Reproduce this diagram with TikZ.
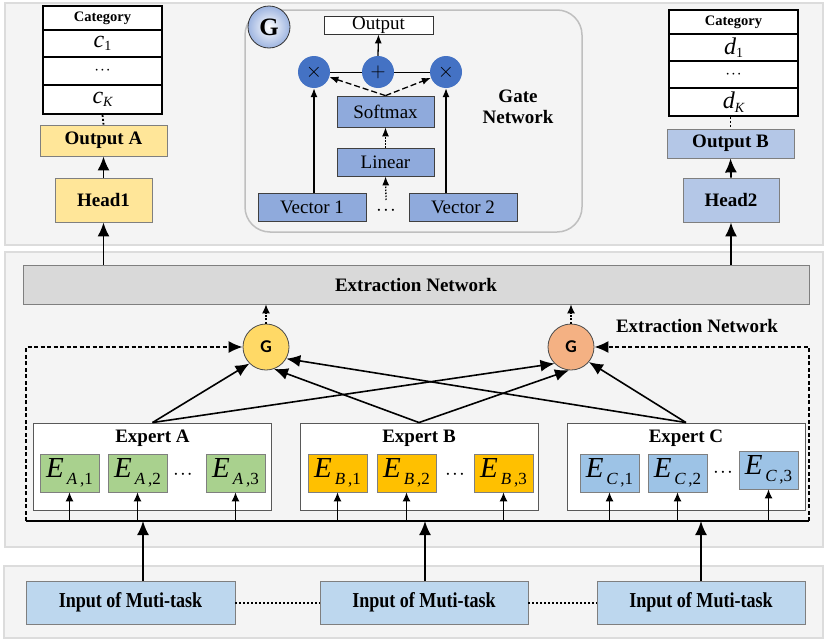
\documentclass[tikz,border=0pt]{standalone}
\usepackage{fontspec}
\setmainfont{Liberation Serif}
\newfontfamily\gsans{Carlito}
\usetikzlibrary{arrows.meta}
\definecolor{panelbg}{HTML}{F4F4F4}
\definecolor{panelln}{HTML}{DCDCDC}
\definecolor{yelbox}{HTML}{FFE699}
\definecolor{bluebox}{HTML}{B4C7E7}
\definecolor{inbox}{HTML}{BDD7EE}
\definecolor{gatebox}{HTML}{8FAADC}
\definecolor{gatecirc}{HTML}{4472C4}
\definecolor{gring}{HTML}{9DB4E0}
\definecolor{extbar}{HTML}{D9D9D9}
\definecolor{gyel}{HTML}{FFD966}
\definecolor{gorg}{HTML}{F4B183}
\definecolor{egreen}{HTML}{A9D18E}
\definecolor{eorange}{HTML}{FFC000}
\definecolor{eblue}{HTML}{9DC3E6}
\definecolor{bordgray}{HTML}{7F7F7F}
\newcommand{\Elab}[2]{{\fontsize{29}{29}\selectfont\itshape E}\raisebox{-7pt}{\fontsize{17}{17}\selectfont\,\itshape #1\upshape\,,#2}}
\newcommand{\clab}[2]{{\fontsize{24}{24}\selectfont\itshape #1}\raisebox{-3.5pt}{\fontsize{14}{14}\selectfont\itshape #2}}
\newcommand{\dotsx}{\textbf{\fontsize{20}{20}\selectfont$\cdot\!\cdot\!\cdot$}}
\newcommand{\tdots}{\textbf{\fontsize{17}{17}\selectfont$\cdot\!\cdot\!\cdot$}}
\begin{document}
\begin{tikzpicture}[x=1pt,y=-1pt,
  panel/.style={fill=panelbg, draw=panelln, line width=1.5pt},
  tbl/.style={draw=black, line width=1.8pt, fill=white, inner sep=0pt},
  bbox/.style={draw=bordgray, line width=0.8pt, inner sep=0pt, font=\bfseries\fontsize{19}{19}\selectfont},
  gbox/.style={draw=black!75, line width=0.8pt, fill=gatebox, inner sep=0pt, font=\fontsize{19}{19}\selectfont},
  ebox/.style={draw=bordgray, line width=0.8pt, inner sep=0pt, minimum width=59pt, minimum height=38pt},
  expert/.style={draw=black!65, line width=0.9pt, fill=white, inner sep=0pt, minimum width=238pt, minimum height=87pt},
  gcirc/.style={circle, fill=gatecirc, minimum size=32pt, inner sep=0pt, font=\fontsize{22}{22}\selectfont},
  mcirc/.style={circle, draw=black!70, line width=0.8pt, minimum size=46pt, inner sep=0pt, font=\gsans\bfseries\fontsize{18}{18}\selectfont},
  dots/.style={line width=2pt, dash pattern=on 2pt off 2pt},
  bigarr/.style={line width=1.8pt, -{Latex[length=14pt,width=12pt]}},
  midarr/.style={line width=1.6pt, -{Latex[length=14pt,width=12pt]}},
  smarr/.style={line width=1.2pt, -{Latex[length=9pt,width=8pt]}},
  garr/.style={line width=1.3pt, -{Latex[length=9pt,width=7pt]}},
  lbl/.style={font=\bfseries\fontsize{19}{19}\selectfont, inner sep=0pt}
]
\useasboundingbox (0,0) rectangle (825,640);
% panels
\draw[panel] (5,3) rectangle (823,245);
\draw[panel] (5,252) rectangle (823,547);
\draw[panel] (4,566) rectangle (823,638);

% ---------- left output column
\node[tbl, minimum width=119pt, minimum height=24pt] (ca0) at (102.5,18) {\bfseries\fontsize{14.5}{14.5}\selectfont Category};
\node[tbl, minimum width=119pt, minimum height=27pt] (ca1) at (102.5,43.5) {\raisebox{1pt}{\clab{c}{\upshape 1}}};
\node[tbl, minimum width=119pt, minimum height=28pt] (ca2) at (102.5,71) {\tdots};
\node[tbl, minimum width=119pt, minimum height=29pt] (ca3) at (102.5,99.5) {\raisebox{-2pt}{\clab{c}{K}}};
\node[bbox, fill=yelbox, minimum width=127pt, minimum height=31pt] (outA) at (103.5,140.5) {Output A};
\node[bbox, fill=yelbox, minimum width=97pt, minimum height=44pt] (head1) at (103.5,200) {Head1};
\draw[dots, line width=1.8pt] (ca3.south) -- (outA.north);
\draw[bigarr] (head1.north) -- (outA.south);

% ---------- right output column
\node[tbl, minimum width=129pt, minimum height=24pt] (cb0) at (733.5,22) {\bfseries\fontsize{14.5}{14.5}\selectfont Category};
\node[tbl, minimum width=129pt, minimum height=27pt] (cb1) at (733.5,47.5) {\raisebox{1pt}{\clab{d}{\upshape 1}}};
\node[tbl, minimum width=129pt, minimum height=27pt] (cb2) at (733.5,74.5) {\tdots};
\node[tbl, minimum width=129pt, minimum height=28pt] (cb3) at (733.5,102) {\raisebox{-1pt}{\clab{d}{K}}};
\node[bbox, fill=bluebox, minimum width=127pt, minimum height=29pt] (outB) at (730.5,143.5) {Output B};
\node[bbox, fill=bluebox, minimum width=96pt, minimum height=44pt] (head2) at (731,200) {Head2};
\draw[dots, line width=1.8pt] (cb3.south -| outB.north) -- (outB.north);
\draw[bigarr] (head2.north) -- (outB.south);

% ---------- gate network panel
\draw[draw=black!25, line width=1.5pt, fill=panelbg, rounded corners=25pt] (245,10) rectangle (582,232);
\node[circle, draw=black!80, line width=0.8pt, minimum size=42pt, inner sep=0pt, inner color=white, outer color=gring, font=\bfseries\fontsize{25}{25}\selectfont] (gG) at (269,27) {G};
\node[draw=black!80, line width=0.8pt, fill=white, minimum width=109pt, minimum height=18pt, inner sep=0pt, font=\fontsize{19}{19}\selectfont] (gout) at (378.5,25) {Output};
\node[gcirc] (m1) at (314,72) {$\times$};
\node[gcirc] (pl) at (378,72) {$+$};
\node[gcirc] (m2) at (446,72) {$\times$};
\draw[line width=0.8pt] (m1) -- (pl) -- (m2);
\node[gbox, minimum width=97pt, minimum height=31pt] (soft) at (385.5,111.5) {Softmax};
\node[gbox, minimum width=97pt, minimum height=28pt] (lin) at (385.5,162) {Linear};
\node[gbox, minimum width=108pt, minimum height=28pt] (v1) at (312,207) {Vector 1};
\node[gbox, minimum width=108pt, minimum height=28pt] (v2) at (463,207) {Vector 2};
\node[inner sep=0pt] (gdots) at (386,211) {\dotsx};
\coordinate (gdt) at (386,200);
\draw[garr] (pl.north) -- (gout.south);
\draw[garr] (m1 |- v1.north) -- (m1.south);
\draw[garr] (m2 |- v2.north) -- (m2.south);
\draw[garr, dash pattern=on 1.5pt off 1.5pt] (gdt) -- (lin.south);
\draw[garr, dash pattern=on 1.5pt off 1.5pt] (lin.north) -- (soft.south);
\draw[garr, dash pattern=on 6pt off 3pt] (soft.north) -- (m1);
\draw[garr, dash pattern=on 6pt off 3pt] (soft.north) -- (m2);
\node[lbl, align=center] (gtitle) at (518,106.5) {Gate\\[2pt]Network};

% ---------- middle panel
\node[draw=bordgray, line width=0.8pt, fill=extbar, minimum width=786pt, minimum height=39pt, inner sep=0pt, font=\bfseries\fontsize{19}{19}\selectfont] (ext) at (416,284.5) {Extraction Network};
\draw[bigarr] (ext.north -| head1.south) -- (head1.south);
\draw[bigarr] (ext.north -| head2.south) -- (head2.south);
\node[mcirc, fill=gyel] (gy) at (266,347) {G};
\node[mcirc, fill=gorg] (go) at (571,347) {G};
\draw[smarr, dash pattern=on 2pt off 1.5pt] (gy.north) -- (gy.north |- ext.south);
\draw[smarr, dash pattern=on 2pt off 1.5pt] (go.north) -- (go.north |- ext.south);
\node[lbl] (extlbl) at (697,326) {Extraction Network};

\node[expert] (exA) at (152.5,466.5) {};
\node[expert] (exB) at (419,466.5) {};
\node[expert] (exC) at (686,466.5) {};
\node[lbl] (tA) at (152.5,438) {Expert A};
\node[lbl] (tB) at (419,438) {Expert B};
\node[lbl] (tC) at (686,438) {Expert C};

\node[ebox, fill=egreen] (ea1) at (69.5,473) {\Elab{A}{1}};
\node[ebox, fill=egreen] (ea2) at (137.5,473) {\Elab{A}{2}};
\node[inner sep=0pt] (da) at (183,475) {\dotsx};
\node[ebox, fill=egreen] (ea3) at (235.5,473) {\Elab{A}{3}};
\node[ebox, fill=eorange] (eb1) at (337.5,473) {\Elab{B}{1}};
\node[ebox, fill=eorange] (eb2) at (406.5,473) {\Elab{B}{2}};
\node[inner sep=0pt] (db) at (455,475) {\dotsx};
\node[ebox, fill=eorange] (eb3) at (503.5,473) {\Elab{B}{3}};
\node[ebox, fill=eblue] (ec1) at (609.5,473) {\Elab{C}{1}};
\node[ebox, fill=eblue] (ec2) at (677.5,473) {\Elab{C}{2}};
\node[inner sep=0pt] (dc) at (723,473) {\dotsx};
\node[ebox, fill=eblue] (ec3) at (768.5,470) {\Elab{C}{3}};

% bus line
\coordinate (busL) at (26,521);
\coordinate (busR) at (809,521);
\coordinate (dlt) at (26,347);
\coordinate (drt) at (809,347);
\draw[line width=1.8pt] (busL) -- (busR);
\draw[line width=1.6pt, dash pattern=on 4pt off 2.5pt, -{Latex[length=14pt,width=12pt]}] (busL) -- (dlt) -- (gy.west);
\draw[line width=1.6pt, dash pattern=on 4pt off 2.5pt, -{Latex[length=14pt,width=12pt]}] (busR) -- (drt) -- (go.east);
\foreach \e in {ea1,ea2,ea3,eb1,eb2,eb3,ec1,ec2,ec3}
  \draw[smarr] (\e.south |- busL) -- (\e.south);

% expert -> gate connections
\draw[midarr] (exA.north) -- (gy.225);
\draw[midarr] (exA.north) -- (go.225);
\draw[midarr] (exB.north) -- (gy.290);
\draw[midarr] (exB.north) -- (go.265);
\draw[midarr] (exC.north) -- (go.320);
\draw[midarr] (exC.north) -- (gy.330);

% ---------- inputs
\node[bbox, fill=inbox, minimum width=209pt, minimum height=43pt] (in1) at (130.5,602.5) {\scalebox{0.95}[1.12]{Input of Muti-task}};
\node[bbox, fill=inbox, minimum width=208pt, minimum height=43pt] (in2) at (424,602.5) {\scalebox{0.95}[1.12]{Input of Muti-task}};
\node[bbox, fill=inbox, minimum width=208pt, minimum height=43pt] (in3) at (701,602.5) {\scalebox{0.95}[1.12]{Input of Muti-task}};
\draw[dots] (in1.east) -- (in2.west);
\draw[dots] (in2.east) -- (in3.west);
\coordinate (a1) at (143,581);
\coordinate (a2) at (425,581);
\coordinate (a3) at (701,581);
\draw[bigarr] (a1) -- (a1 |- busL);
\draw[bigarr] (a2) -- (a2 |- busL);
\draw[bigarr] (a3) -- (a3 |- busL);
\end{tikzpicture}
\end{document}
